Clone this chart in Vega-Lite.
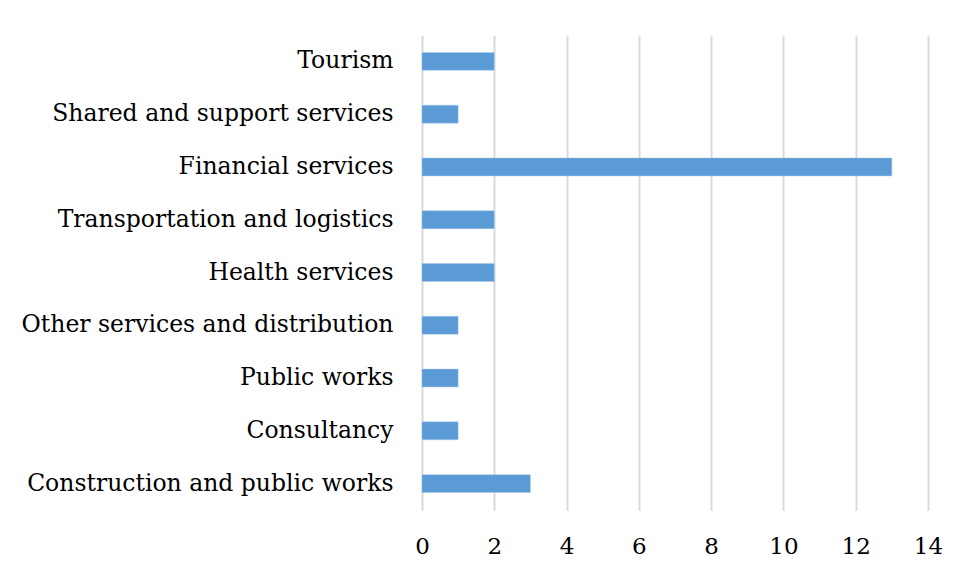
{
  "$schema": "https://vega.github.io/schema/vega-lite/v6.json",
  "width": 506,
  "height": 475,
  "autosize": {"type": "none"},
  "padding": {"left": 422, "top": 35, "right": 30, "bottom": 67},
  "background": "white",
  "data": {"values": [
    {"sector": "Tourism", "count": 2},
    {"sector": "Shared and support services", "count": 1},
    {"sector": "Financial services", "count": 13},
    {"sector": "Transportation and logistics", "count": 2},
    {"sector": "Health services", "count": 2},
    {"sector": "Other services and distribution", "count": 1},
    {"sector": "Public works", "count": 1},
    {"sector": "Consultancy", "count": 1},
    {"sector": "Construction and public works", "count": 3}
  ]},
  "mark": {"type": "bar", "color": "#5b9bd5", "stroke": "#a9c8ec", "strokeWidth": 0.5},
  "encoding": {
    "y": {"field": "sector", "type": "nominal", "sort": null,
          "scale": {"paddingInner": 0.66, "paddingOuter": 0.33},
          "axis": {"title": null, "domain": false, "ticks": false, "labelPadding": 29,
                   "labelFont": "DejaVu Serif", "labelFontSize": 23.5, "labelColor": "#000000", "labelLimit": 500}},
    "x": {"field": "count", "type": "quantitative",
          "scale": {"domain": [0, 14], "nice": false},
          "axis": {"title": null, "domain": false, "ticks": false, "values": [0,2,4,6,8,10,12,14],
                   "labelFlush": false, "labelPadding": 25, "labelFont": "DejaVu Serif", "labelFontSize": 23, "labelColor": "#000000",
                   "gridColor": "#d9d9d9", "gridWidth": 2, "gridOpacity": 1}}
  },
  "config": {"view": {"stroke": null}}
}
